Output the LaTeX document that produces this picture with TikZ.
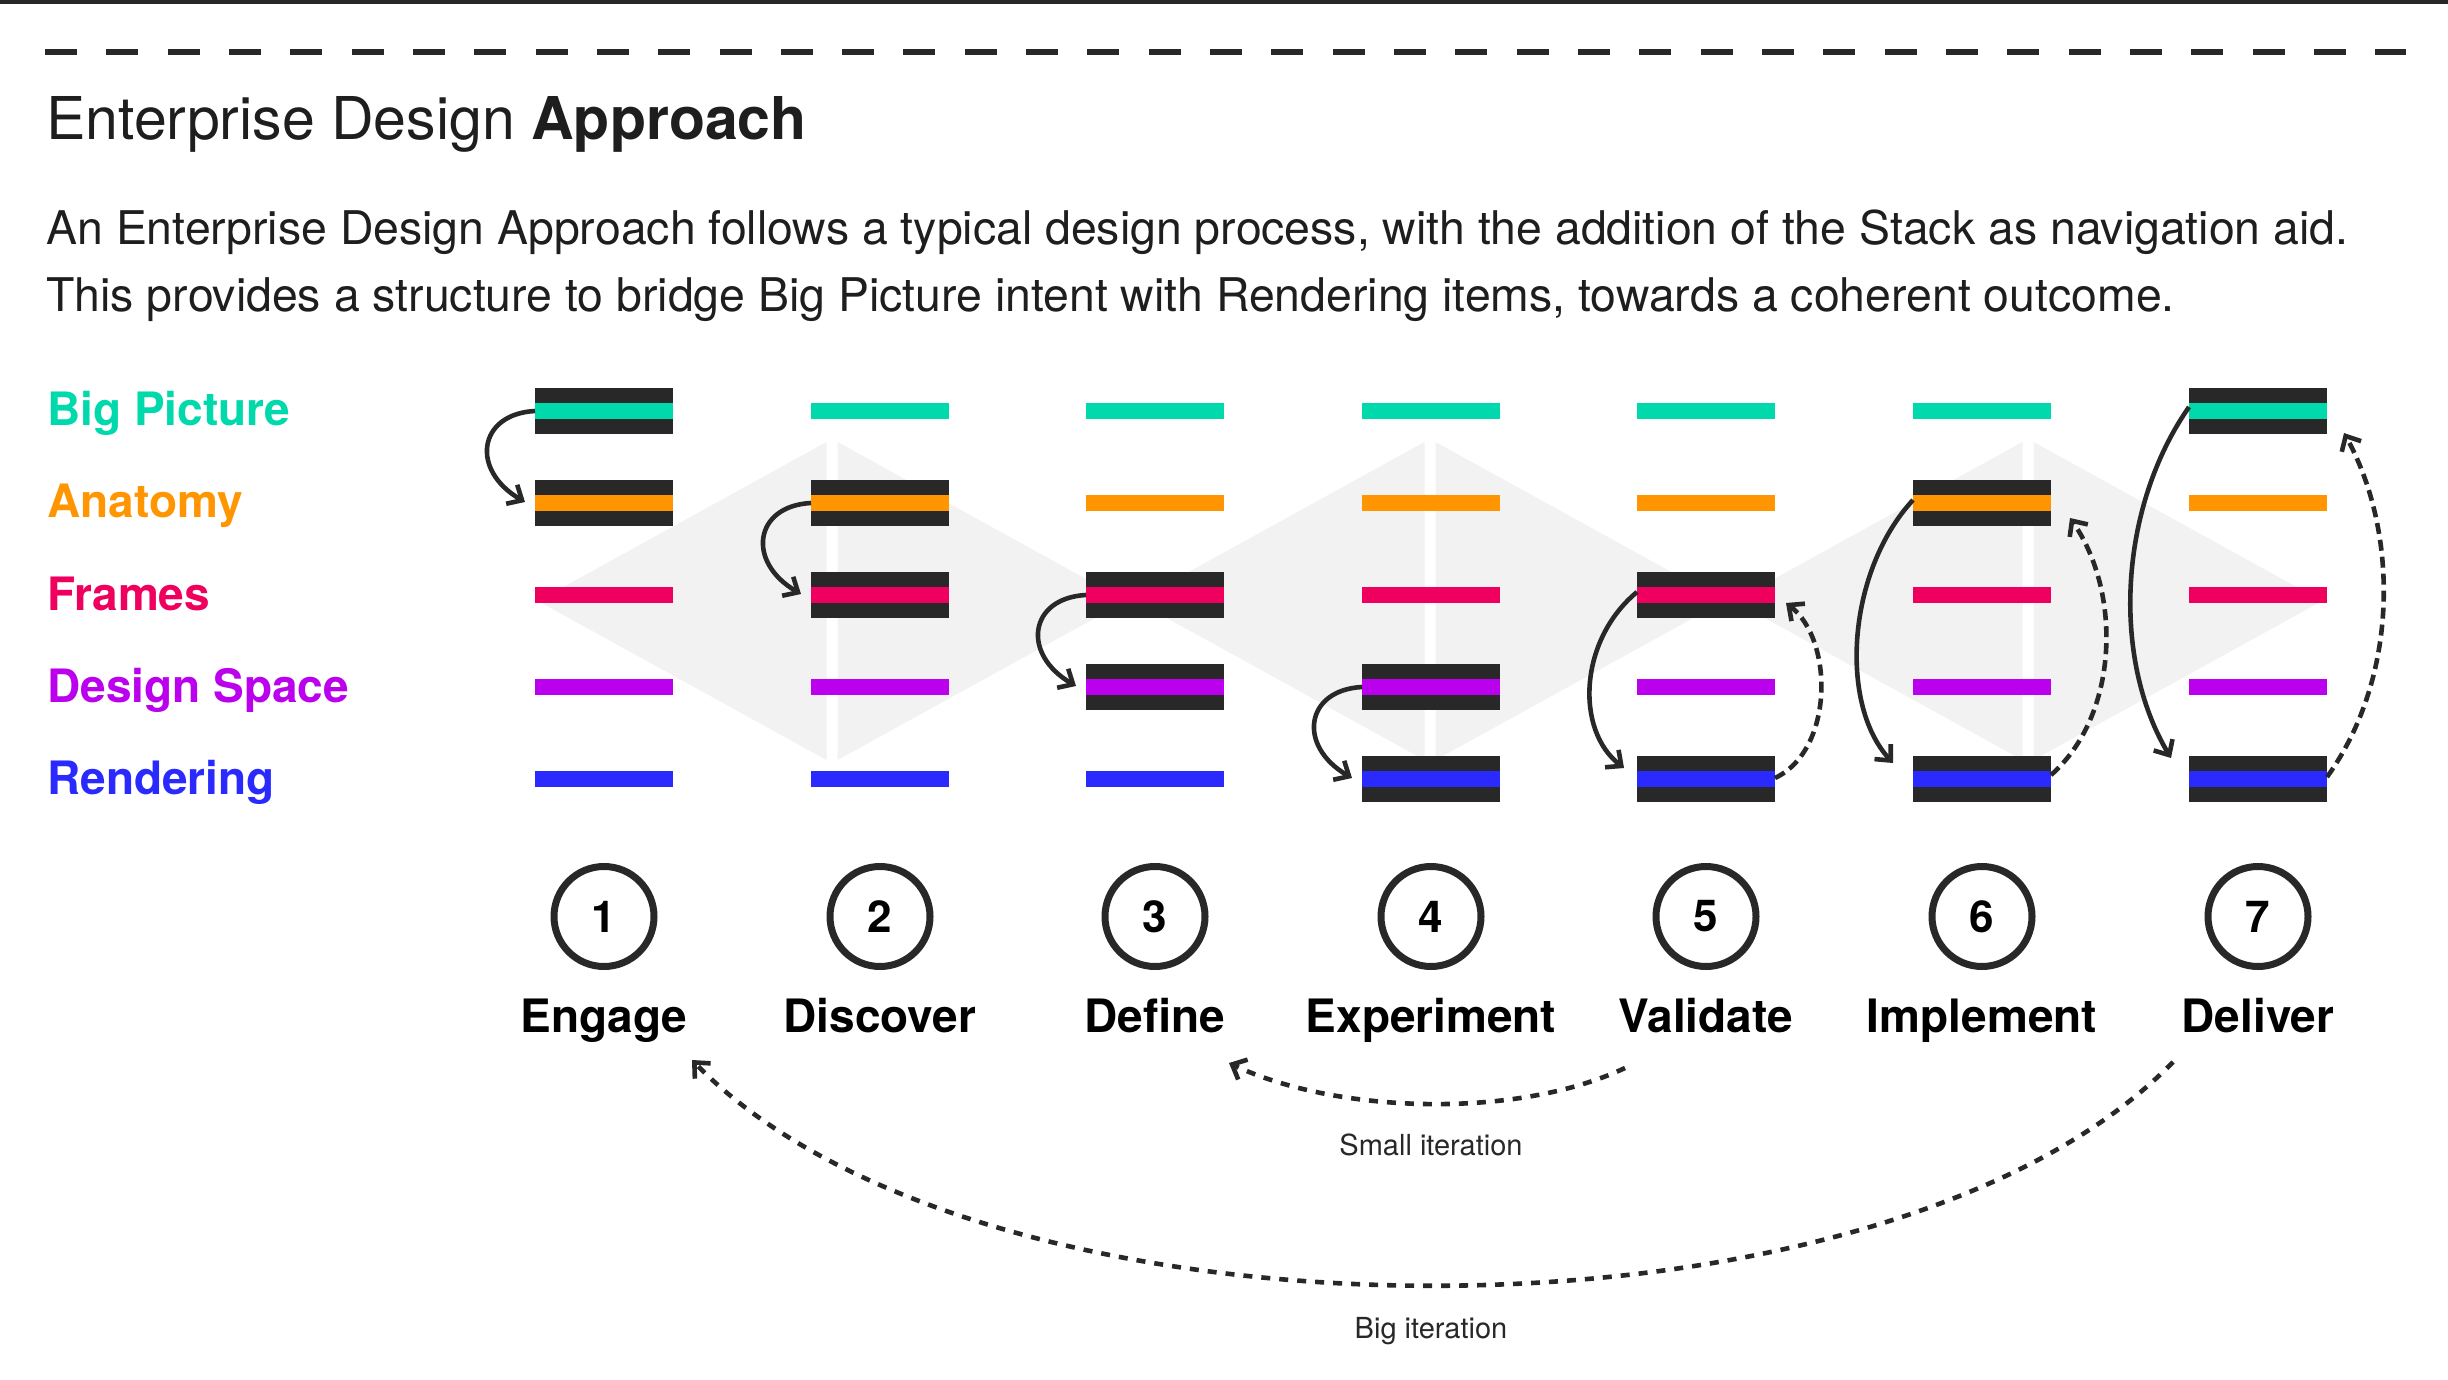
\documentclass[tikz,border=0pt]{standalone}
\usepackage{fontspec}
\setmainfont{TeX Gyre Heros}
\usetikzlibrary{arrows.meta,calc}
\definecolor{cBP}{HTML}{00D9AB}
\definecolor{cAN}{HTML}{FF9500}
\definecolor{cFR}{HTML}{EF005F}
\definecolor{cDS}{HTML}{BB00EE}
\definecolor{cRE}{HTML}{2A2AFF}
\definecolor{ink}{HTML}{282828}
\definecolor{diam}{HTML}{F2F2F2}
\definecolor{txt}{HTML}{1E1E1E}
\begin{document}
\begin{tikzpicture}[x=0.5pt,y=-0.5pt,
  bar/.style={rectangle,minimum width=69pt,minimum height=8pt,inner sep=0pt,outer sep=0pt,draw=none},
  stackbox/.style={rectangle,fill=ink,minimum width=69pt,minimum height=23pt,inner sep=0pt,outer sep=0pt},
  arr/.style={draw=ink,line width=2.3pt,-{Straight Barb[length=6pt,width=11pt]}},
  darr/.style={arr,dash pattern=on 5.5pt off 3pt},
  iter/.style={arr,dash pattern=on 4.5pt off 4.5pt},
  rowlab/.style={anchor=base west,inner sep=0pt,font=\fontsize{23pt}{27pt}\selectfont\bfseries},
  steplab/.style={anchor=base,inner sep=0pt,font=\fontsize{23pt}{27pt}\selectfont\bfseries,text=black},
  numcirc/.style={circle,draw=ink,line width=3.5pt,minimum size=50pt,inner sep=0pt,font=\fontsize{22pt}{26pt}\selectfont\bfseries,text=black},
  itlab/.style={anchor=base,inner sep=0pt,font=\fontsize{14.5pt}{17pt}\selectfont,text=ink}
]
\useasboundingbox (0,0) rectangle (2448,1380);
\fill[white] (0,0) rectangle (2448,1380);
% top rule and dashed line
\fill[ink] (0,0) rectangle (2448,4);
\draw[ink,line width=3pt,dash pattern=on 16pt off 14.66pt] (45,52) -- (2406,52);
% title and intro
\node[anchor=base west,inner sep=0pt,text=txt,font=\fontsize{29.5pt}{34pt}\selectfont] (title) at (46,140) {Enterprise Design \textbf{Approach}};
\node[anchor=base west,inner sep=0pt,text=txt,font=\fontsize{23.2pt}{27pt}\selectfont] (para1) at (46,245) {An Enterprise Design Approach follows a typical design process, with the addition of the Stack as navigation aid.};
\node[anchor=base west,inner sep=0pt,text=txt,font=\fontsize{23.2pt}{27pt}\selectfont] (para2) at (46,312) {This provides a structure to bridge Big Picture intent with Rendering items, towards a coherent outcome.};
% background diamonds
\foreach \dx in {832,1430,2028}{
  \fill[diam] (\dx-5.5,442) -- (\dx-5.5,760) -- (\dx-294,601) -- cycle;
  \fill[diam] (\dx+5.5,442) -- (\dx+5.5,760) -- (\dx+294,601) -- cycle;
}
% row labels
\node[rowlab,text=cBP] (lBP) at (47,425) {Big Picture};
\node[rowlab,text=cAN] (lAN) at (47,517) {Anatomy};
\node[rowlab,text=cFR] (lFR) at (47,610) {Frames};
\node[rowlab,text=cDS] (lDS) at (47,702) {Design Space};
\node[rowlab,text=cRE] (lRE) at (47,794) {Rendering};
% highlighted stacks
\node[stackbox] (s1t) at (604,411) {};
\node[stackbox] (s1b) at (604,503) {};
\node[stackbox] (s2t) at (880,503) {};
\node[stackbox] (s2b) at (880,595) {};
\node[stackbox] (s3t) at (1155,595) {};
\node[stackbox] (s3b) at (1155,687) {};
\node[stackbox] (s4t) at (1431,687) {};
\node[stackbox] (s4b) at (1431,779) {};
\node[stackbox] (s5t) at (1706,595) {};
\node[stackbox] (s5b) at (1706,779) {};
\node[stackbox] (s6t) at (1982,503) {};
\node[stackbox] (s6b) at (1982,779) {};
\node[stackbox] (s7t) at (2258,411) {};
\node[stackbox] (s7b) at (2258,779) {};
% colour bars
\foreach \cx [count=\i] in {604,880,1155,1431,1706,1982,2258}{
  \foreach \ry/\rc [count=\j] in {411/cBP,503/cAN,595/cFR,687/cDS,779/cRE}{
    \node[bar,fill=\rc] (b\i-\j) at (\cx,\ry) {};
  }
}
% small step arrows
\draw[arr] ($(s1t.west)+(0,0)$) .. controls +(-57,3) and +(-55,-32) .. ($(s1b.west)+(-10,-1)$);
\draw[arr] ($(s2t.west)+(0,0)$) .. controls +(-57,3) and +(-55,-32) .. ($(s2b.west)+(-10,-1)$);
\draw[arr] ($(s3t.west)+(0,0)$) .. controls +(-57,3) and +(-55,-32) .. ($(s3b.west)+(-10,-1)$);
\draw[arr] ($(s4t.west)+(0,0)$) .. controls +(-57,3) and +(-55,-32) .. ($(s4b.west)+(-10,-1)$);
% long arrows
\draw[arr] ($(s5t.west)+(0,-3)$) .. controls +(-58,48) and +(-49,-38) .. ($(s5b.west)+(-13,-11)$);
\draw[darr] ($(s5b.east)+(0,-1)$) .. controls +(59,-28) and +(48,37) .. ($(s5t.east)+(11,8)$);
\draw[arr] ($(s6t.west)+(0,-3)$) .. controls +(-65,70) and +(-55,-60) .. ($(s6b.west)+(-20,-16)$);
\draw[darr] ($(s6b.east)+(0,-4)$) .. controls +(68,-60) and +(52,75) .. ($(s6t.east)+(19,15)$);
\draw[arr] ($(s7t.west)+(0,-4)$) .. controls +(-70,100) and +(-60,-100) .. ($(s7b.west)+(-18,-21)$);
\draw[darr] ($(s7b.east)+(0,-2)$) .. controls +(72,-100) and +(55,100) .. ($(s7t.east)+(17,22)$);
% numbered circles and step labels
\foreach \cx/\n/\lab [count=\i] in {604/1/Engage,880/2/Discover,1155/3/Define,1431/4/Experiment,1706/5/Validate,1982/6/Implement,2258/7/Deliver}{
  \node[numcirc] (c\i) at (\cx,916.5) {\n};
  \node[steplab] (l\i) at (\cx,1032) {\lab};
}
% iteration arcs
\draw[iter] ($(c5)+(-81,151.5)$) .. controls +(-108,51) and +(108,51) .. ($(c3)+(74,146.5)$);
\draw[iter] ($(c7)+(-85,145.5)$) .. controls +(-291,299) and +(291,299) .. ($(c1)+(88,143.5)$);
\node[itlab] (small) at (1431,1155) {Small iteration};
\node[itlab] (big) at (1431,1338) {Big iteration};
\end{tikzpicture}
\end{document}
